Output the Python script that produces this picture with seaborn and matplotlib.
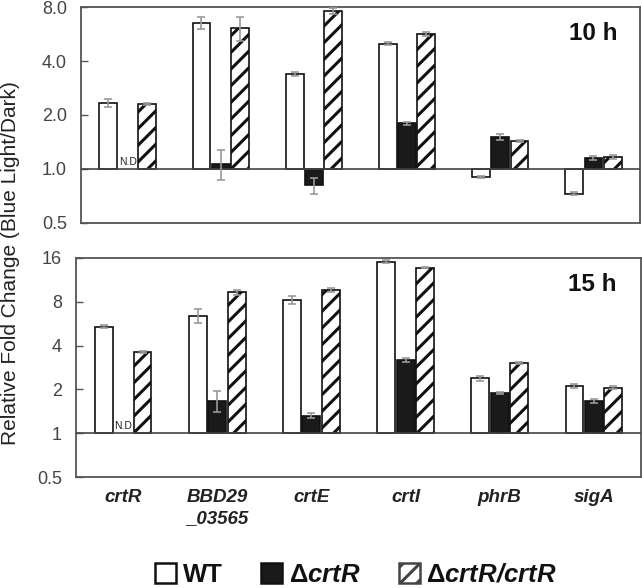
import numpy as np
import pandas as pd
import matplotlib
matplotlib.use("Agg")
import matplotlib.pyplot as plt
from matplotlib.patches import Patch
import seaborn as sns

sns.set_style("white")
plt.rcParams["font.family"] = ["Liberation Sans", "DejaVu Sans"]
plt.rcParams["mathtext.fontset"] = "custom"
plt.rcParams["mathtext.rm"] = "Liberation Sans"
plt.rcParams["mathtext.it"] = "Liberation Sans:italic"
plt.rcParams["mathtext.bf"] = "Liberation Sans:bold"
plt.rcParams["mathtext.bfit"] = "Liberation Sans:italic:bold"
plt.rcParams["hatch.linewidth"] = 2.2

genes = ["crtR", "BBD29\n_03565", "crtE", "crtI", "phrB", "sigA"]
strains = ["WT", "ΔcrtR", "ΔcrtR/crtR"]

# 10 h
wt_10 = [2.33, 6.5, 3.38, 5.0, 0.90, 0.73]
ko_10 = [np.nan, 1.07, 0.81, 1.80, 1.51, 1.15]
comp_10 = [2.30, 6.1, 7.6, 5.66, 1.43, 1.17]
wt_10_err = [0.12, 0.5, 0.1, 0.1, 0.01, 0.01]
ko_10_err = [0.0, 0.2, 0.08, 0.03, 0.05, 0.03]
comp_10_err = [0.02, 0.95, 0.25, 0.12, 0.02, 0.03]

# 15 h
wt_15 = [5.4, 6.4, 8.2, 15.1, 2.38, 2.12]
ko_15 = [np.nan, 1.67, 1.32, 3.18, 1.89, 1.66]
comp_15 = [3.63, 9.3, 9.7, 13.7, 3.05, 2.05]
wt_15_err = [0.15, 0.7, 0.5, 0.3, 0.1, 0.07]
ko_15_err = [0.0, 0.27, 0.05, 0.1, 0.03, 0.05]
comp_15_err = [0.05, 0.4, 0.3, 0.1, 0.05, 0.05]

panels = [
    ("10 h", [wt_10, ko_10, comp_10], [wt_10_err, ko_10_err, comp_10_err],
     [0.5, 1, 2, 4, 8], ["0.5", "1.0", "2.0", "4.0", "8.0"]),
    ("15 h", [wt_15, ko_15, comp_15], [wt_15_err, ko_15_err, comp_15_err],
     [0.5, 1, 2, 4, 8, 16], ["0.5", "1", "2", "4", "8", "16"]),
]

W, H = 642, 588
fig = plt.figure(figsize=(W / 100, H / 100), dpi=100)
ax_top = fig.add_axes([81 / W, 1 - 223 / H, 559 / W, 216 / H])
ax_bot = fig.add_axes([76 / W, 1 - 477 / H, 565 / W, 219 / H])

palette = {"WT": "white", "ΔcrtR": "#1a1a1a", "ΔcrtR/crtR": "white"}
bw = 0.62
for ax, (title, vals, errs, ticks, ticklabels) in zip([ax_top, ax_bot], panels):
    rows = []
    for s, v in zip(strains, vals):
        for g, val in zip(genes, v):
            rows.append({"gene": g, "strain": s, "log2fc": np.log2(val)})
    df = pd.DataFrame(rows)
    sns.barplot(data=df, x="gene", y="log2fc", hue="strain", order=genes,
                hue_order=strains, palette=palette, width=bw, gap=0.08,
                edgecolor="#111111", linewidth=1.2, errorbar=None,
                legend=False, ax=ax)
    hatch_cx = [i + bw / 3 for i in range(len(genes))]
    for p in ax.patches:
        cx = p.get_x() + p.get_width() / 2
        if any(abs(cx - h) < 0.05 for h in hatch_cx):
            p.set_hatch("//")
    # error bars
    for j, (v, e) in enumerate(zip(vals, errs)):
        v = np.array(v, dtype=float)
        e = np.array(e, dtype=float)
        xs = np.arange(len(genes)) + (j - 1) * bw / 3
        ok = ~np.isnan(v)
        lo = np.log2(v[ok]) - np.log2(np.maximum(v[ok] - e[ok], 1e-6))
        hi = np.log2(v[ok] + e[ok]) - np.log2(v[ok])
        ax.errorbar(xs[ok], np.log2(v[ok]), yerr=[lo, hi], fmt="none",
                    ecolor="#999999", elinewidth=1.2, capsize=3, capthick=1.2,
                    zorder=5)
    ax.axhline(0, color="#444444", lw=1.2, zorder=4)
    ax.text(0, 0.04, "N.D", ha="center", va="bottom", fontsize=7.5,
            color="#222222")
    lt = np.log2(ticks)
    ax.set_ylim(lt[0], lt[-1])
    ax.set_yticks(lt)
    ax.set_yticklabels(ticklabels, fontsize=13, color="#444444")
    ax.set_xlim(-0.5, len(genes) - 0.5)
    ax.set_xlabel("")
    ax.set_ylabel("")
    ax.tick_params(axis="y", which="major", direction="in", length=5,
                   width=1, color="#555555", left=True, pad=10)
    ax.tick_params(axis="x", length=0)
    for sp in ax.spines.values():
        sp.set_visible(True)
        sp.set_color("#555555")
        sp.set_linewidth(1.3)

ax_top.text(0.959, 0.93, "10 h", transform=ax_top.transAxes, ha="right",
            va="top", fontsize=17.5, fontweight="bold", color="#111111")
ax_bot.text(0.9575, 0.93, "15 h", transform=ax_bot.transAxes, ha="right",
            va="top", fontsize=17.5, fontweight="bold", color="#111111")

ax_top.set_xticklabels([])
ax_bot.set_xticklabels(genes, fontsize=13.5, fontweight="bold",
                       fontstyle="italic", color="#222222", linespacing=1.25)
ax_bot.tick_params(axis="x", pad=9)

fig.text(11 / W, 1 - 445 / H, "Relative Fold Change (Blue Light/Dark)", rotation=90,
         ha="center", va="bottom", fontsize=15, color="#222222")

handles = [Patch(facecolor="white", edgecolor="#111111", linewidth=1.8),
           Patch(facecolor="#1a1a1a", edgecolor="#111111", linewidth=1.8),
           Patch(facecolor="white", edgecolor="#444444", hatch="//",
                 linewidth=1.8)]
labels = ["WT", r"Δ$\mathbfit{crtR}$", r"Δ$\mathbfit{crtR/crtR}$"]
leg = fig.legend(handles, labels, loc="center", bbox_to_anchor=(356 / W, 1 - 575 / H),
                 ncol=3, frameon=False, handlelength=0.82, handleheight=0.82,
                 columnspacing=1.5, handletextpad=0.25, borderpad=0.1,
                 prop={"size": 18.5, "weight": "bold"})
for t in leg.get_texts():
    t.set_color("#111111")

fig.savefig("out.png", dpi=100)
